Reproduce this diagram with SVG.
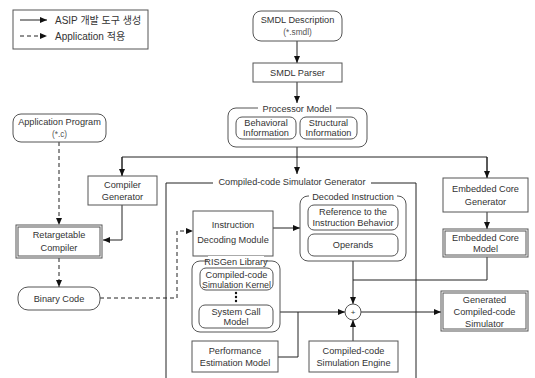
<svg xmlns="http://www.w3.org/2000/svg" width="535" height="378" viewBox="0 0 535 378">
<defs>
<marker id="ah" markerWidth="7" markerHeight="6" refX="7" refY="3" orient="auto" markerUnits="userSpaceOnUse">
<path d="M0,0 L7,3 L0,6 Z" fill="#111"/>
</marker>
<style>
.b{fill:#fff;stroke:#555;stroke-width:1}
.c{fill:none;stroke:#222;stroke-width:1}
.d{fill:none;stroke:#222;stroke-width:1;stroke-dasharray:4,3}
.a{marker-end:url(#ah)}
text{font-family:"Liberation Sans",Arial,"Noto Sans CJK KR",sans-serif;font-size:9.2px;fill:#333;text-anchor:middle}
.s{font-size:8.3px;fill:#555}
.k{text-anchor:start;font-size:10px;font-family:"Liberation Sans","Noto Sans CJK KR",sans-serif}
</style>
</defs>
<rect width="535" height="378" fill="#fff"/>

<g id="legend">
<rect x="13" y="10" width="135" height="39" class="b"/>
<line x1="20" y1="20" x2="47" y2="20" class="c a"/>
<text x="55" y="23.5" class="k">ASIP 개발 도구 생성</text>
<line x1="20" y1="36" x2="47" y2="36" class="d a"/>
<text x="55" y="39.5" class="k">Application 적용</text>
</g>

<g id="connectors">
<line x1="297" y1="41" x2="297" y2="63" class="c a"/>
<line x1="297" y1="82" x2="297" y2="103" class="c a"/>
<line x1="297" y1="147" x2="297" y2="174" class="c a"/>
<path d="M122,176 V157 H487 V178" class="c"/>
<line x1="122" y1="157" x2="122" y2="176" class="c a"/>
<line x1="487" y1="157" x2="487" y2="178" class="c a"/>
<path d="M122,205 V240 H103" class="c a"/>
<line x1="59" y1="142" x2="59" y2="225" class="d a"/>
<line x1="59" y1="258" x2="59" y2="287" class="d a"/>
<path d="M100,298 H177 V231 H193" class="d a"/>
<line x1="273" y1="228" x2="300" y2="228" class="c a"/>
<line x1="487" y1="212" x2="487" y2="229" class="c a"/>
<path d="M487,257 V280 H353" class="c"/>
<line x1="353" y1="261" x2="353" y2="304" class="c a"/>
<line x1="280" y1="312" x2="345" y2="312" class="c a"/>
<path d="M278,357 H298 V312" class="c"/>
<line x1="353" y1="341" x2="353" y2="320" class="c a"/>
<line x1="361" y1="312" x2="441" y2="312" class="c a"/>
</g>

<g id="simgen">
<path d="M166,378 V183 H416 V378" class="c"/>
<rect x="213" y="176" width="158" height="12" fill="#fff"/>
<text x="292" y="185">Compiled-code Simulator Generator</text>
</g>

<g id="smdl-description">
<rect x="253" y="11" width="89" height="30" rx="8" class="b"/>
<text x="297.5" y="23">SMDL Description</text>
<text x="297.5" y="35" class="s">(*.smdl)</text>
</g>

<g id="smdl-parser">
<rect x="253" y="63" width="89" height="19" class="b"/>
<text x="297.5" y="76">SMDL Parser</text>
</g>

<g id="processor-model">
<rect x="228" y="108" width="139" height="39" rx="8" class="b"/>
<rect x="258" y="103" width="78" height="10" fill="#fff"/>
<text x="297" y="111.5">Processor Model</text>
<rect x="236" y="117" width="60" height="22" rx="6" class="b"/>
<text x="266" y="126">Behavioral</text>
<text x="266" y="136">Information</text>
<rect x="300" y="117" width="57" height="22" rx="6" class="b"/>
<text x="328.5" y="126">Structural</text>
<text x="328.5" y="136">Information</text>
</g>

<g id="application-program">
<rect x="13" y="114" width="93" height="28" rx="8" class="b"/>
<text x="59.5" y="125">Application Program</text>
<text x="59.5" y="137" class="s">(*.c)</text>
</g>

<g id="compiler-generator">
<rect x="88" y="176" width="69" height="29" class="b"/>
<text x="122.5" y="188">Compiler</text>
<text x="122.5" y="200">Generator</text>
</g>

<g id="retargetable-compiler">
<rect x="16" y="225" width="86" height="33" class="b"/>
<rect x="18" y="227" width="82" height="29" class="b"/>
<text x="59" y="238">Retargetable</text>
<text x="59" y="251">Compiler</text>
</g>

<g id="binary-code">
<rect x="18" y="287" width="82" height="23" rx="10" class="b"/>
<text x="59" y="302">Binary Code</text>
</g>

<g id="instruction-decoding">
<rect x="193" y="211" width="80" height="45" class="b"/>
<text x="233" y="228">Instruction</text>
<text x="233" y="243">Decoding Module</text>
</g>

<g id="decoded-instruction">
<rect x="300" y="196" width="106" height="65" rx="8" class="b"/>
<rect x="309" y="191" width="88" height="10" fill="#fff"/>
<text x="353" y="199.5">Decoded Instruction</text>
<rect x="308" y="205" width="90" height="25" rx="6" class="b"/>
<text x="353" y="215">Reference to the</text>
<text x="353" y="226">Instruction Behavior</text>
<rect x="308" y="234" width="90" height="22" rx="6" class="b"/>
<text x="353" y="248">Operands</text>
</g>

<g id="risgen-library">
<rect x="192" y="261" width="88" height="71" rx="8" class="b"/>
<rect x="208" y="256" width="56" height="10" fill="#fff"/>
<text x="236" y="264.5">RISGen Library</text>
<rect x="200" y="268" width="73" height="22" rx="6" class="b"/>
<text x="236.5" y="277.5">Compiled-code</text>
<text x="236.5" y="287.5" style="font-size:8.8px">Simulation Kernel</text>
<circle cx="236" cy="293" r="1.2" fill="#111"/>
<circle cx="236" cy="297" r="1.2" fill="#111"/>
<circle cx="236" cy="301" r="1.2" fill="#111"/>
<rect x="199" y="305" width="74" height="23" rx="6" class="b"/>
<text x="236" y="314.5">System Call</text>
<text x="236" y="325">Model</text>
</g>

<g id="performance-estimation">
<rect x="192" y="341" width="86" height="31" class="b"/>
<text x="235" y="353.5">Performance</text>
<text x="235" y="366">Estimation Model</text>
</g>

<g id="sum">
<circle cx="353" cy="312" r="8" class="b"/>
<text x="353" y="315" style="font-size:8px">+</text>
</g>

<g id="simulation-engine">
<rect x="309" y="341" width="89" height="31" class="b"/>
<text x="353.5" y="353.5">Compiled-code</text>
<text x="353.5" y="366">Simulation Engine</text>
</g>

<g id="embedded-core-generator">
<rect x="443" y="178" width="85" height="34" class="b"/>
<text x="485.5" y="192">Embedded Core</text>
<text x="485.5" y="205">Generator</text>
</g>

<g id="embedded-core-model">
<rect x="443" y="229" width="85" height="28" class="b"/>
<rect x="445" y="231" width="81" height="24" class="b"/>
<text x="485.5" y="241">Embedded Core</text>
<text x="485.5" y="252">Model</text>
</g>

<g id="generated-simulator">
<rect x="441" y="291" width="87" height="40" class="b"/>
<rect x="443" y="293" width="83" height="36" class="b"/>
<text x="484.5" y="303">Generated</text>
<text x="484.5" y="315">Compiled-code</text>
<text x="484.5" y="327">Simulator</text>
</g>
</svg>
